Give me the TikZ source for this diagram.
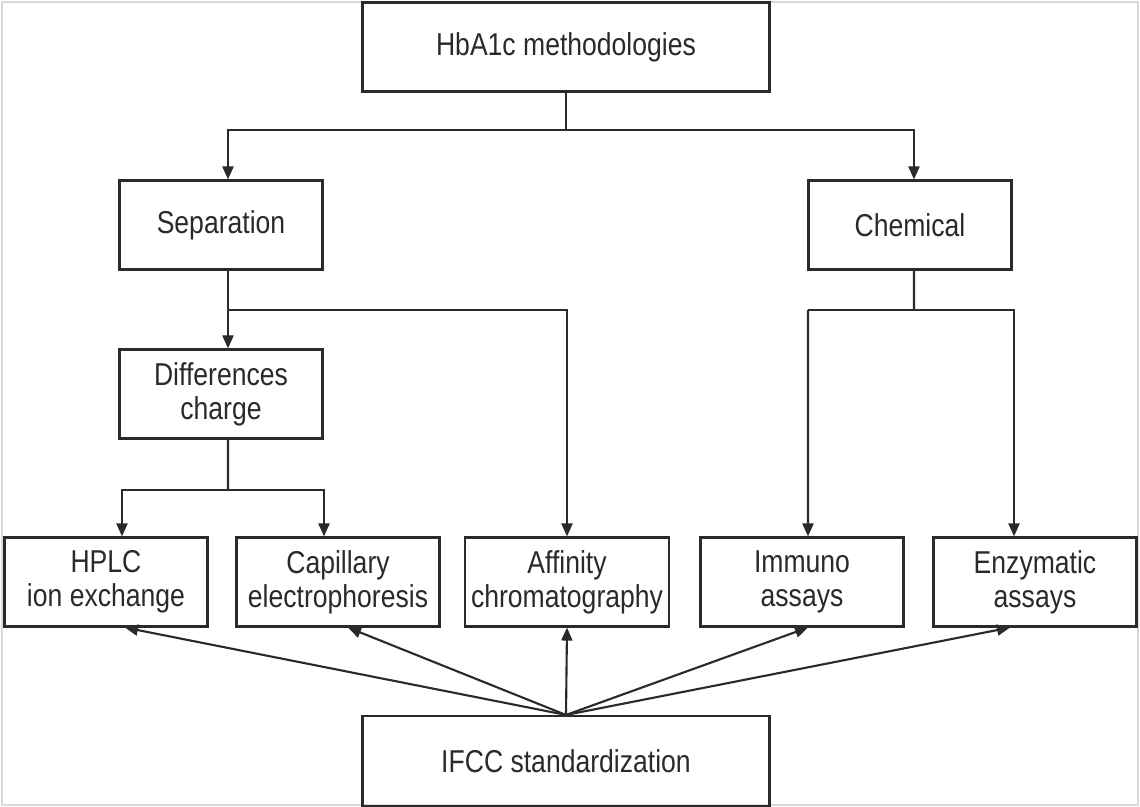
\documentclass[tikz,border=0pt]{standalone}
\usepackage{fontspec}
\setmainfont[FakeStretch=0.84]{Liberation Sans}
\usepackage{tikz}
\usetikzlibrary{shapes.geometric, arrows, arrows.meta, positioning}
\definecolor{ink}{HTML}{2A2A2A}
\tikzstyle{method} = [rectangle, 
minimum width=4.06cm, 
minimum height=1.78cm,
text centered, 
align=center,
draw=ink, 
line width=1.2pt,
text=ink,
font=\fontsize{18}{19.5}\selectfont]
\tikzstyle{wide} = [method, 
minimum width=8.14cm]
\tikzstyle{line} = [draw=ink, line width=1.2pt]
\tikzstyle{arrow} = [line,->,>={Triangle[length=0.26cm, width=0.22cm]}]

\begin{document}
\begin{tikzpicture}[x=0.02cm, y=-0.02cm]
\useasboundingbox (0,0) rectangle (1140,807);
\draw [gray!30, line width=0.8pt] (2,2) rectangle (1138,805);

\node (meth) [wide] at (566,47) {HbA1c methodologies};
\node (sep) [method] at (221,225) {Separation};
\node (chem) [method] at (910,225) {Chemical};
\node (diff) [method] at (221,394) {Differences\\charge};

\node (hplc) [method] at (106,582) {HPLC\\ion exchange};
\node (cap) [method] at (338,582) {Capillary\\electrophoresis};
\node (aff) [method, minimum width=3.92cm] at (567,582) {Affinity\\chromatography};
\node (imm) [method] at (802,582) {Immuno\\assays};
\node (enz) [method] at (1035,582) {Enzymatic\\assays};

\node (ifcc) [wide, minimum height=1.8cm] at (566,761) {IFCC standardization};

\coordinate (split1) at (566,130);
\coordinate (split2) at (228,310);
\coordinate (split3) at (228,490);
\coordinate (split4) at (914,310);

\draw [line] (meth.south) -- (split1);
\draw [arrow] (split1) -| ([xshift=0.14cm]sep.north);
\draw [arrow] (split1) -| ([xshift=0.08cm]chem.north);

\draw [arrow] ([xshift=0.14cm]sep.south) -- ([xshift=0.14cm]diff.north);
\draw [arrow] (split2) -| (aff.north);

\draw [line] ([xshift=0.14cm]diff.south) -- (split3);
\draw [arrow] (split3) -| ([xshift=0.32cm]hplc.north);
\draw [arrow] (split3) -| ([xshift=-0.28cm]cap.north);

\draw [line] ([xshift=0.08cm]chem.south) -- (split4);
\draw [line] (split4) -- ++(-106,0) coordinate (immtop);
\draw [arrow] (immtop) -- ([xshift=0.12cm]imm.north);
\draw [arrow] (split4) -| ([xshift=-0.42cm]enz.north);

\draw [arrow] (ifcc.north) -- ([xshift=0.38cm]hplc.south);
\draw [arrow] (ifcc.north) -- ([xshift=0.2cm]cap.south);
\draw [arrow] (ifcc.north) -- (aff.south);
\draw [arrow] (ifcc.north) -- ([xshift=0.12cm]imm.south);
\draw [arrow] (ifcc.north) -- ([xshift=-0.5cm]enz.south);

\end{tikzpicture}
\end{document}
